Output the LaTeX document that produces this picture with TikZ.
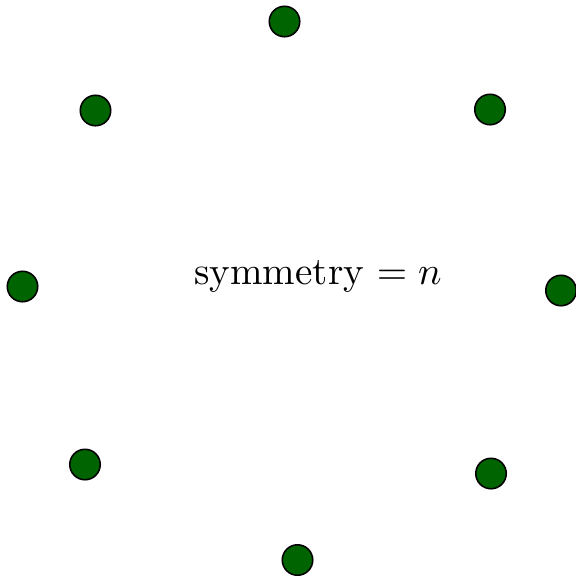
\documentclass[tikz,border=0pt]{standalone}
\usepackage{xcolor}
\usetikzlibrary{positioning}
\definecolor{dotgreen}{RGB}{0,100,0}
\tikzset{dot/.style={circle,draw=black,fill=dotgreen,inner sep=0pt,minimum size=7.8pt}}
\begin{document}
\begin{tikzpicture}[x=0.256pt,y=-0.256pt]
	\useasboundingbox (0,0) rectangle (576,575);
	\node (sym) at (318,276) {symmetry $=n$};
	\foreach \x/\y [count=\i] in {284.5/21.5,490/109.5,561/290.5,491/473.5,297.5/560,85/464.5,22.5/286.5,95.5/110.5}
		\node[dot] (p\i) at (\x,\y) {};
\end{tikzpicture}
\end{document}
